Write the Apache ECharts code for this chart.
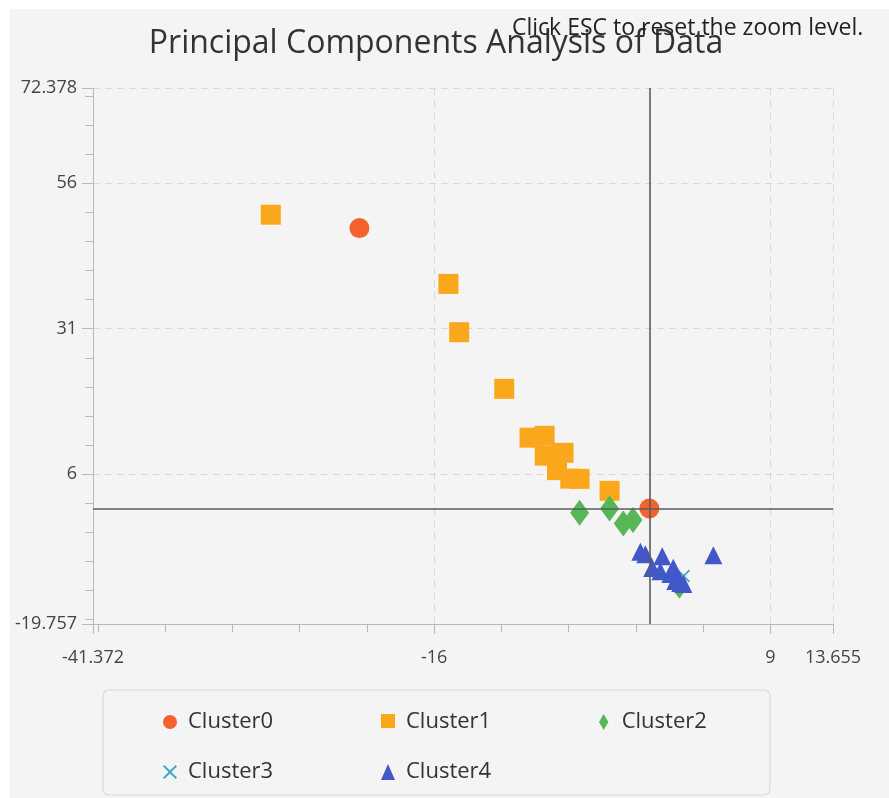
<!DOCTYPE html>
<html>
<head>
<meta charset="utf-8">
<script src="https://cdn.jsdelivr.net/npm/echarts@6/dist/echarts.min.js"></script>
<style>
  html, body { margin: 0; padding: 0; background: #ffffff; }
  #chart { position: absolute; left: 10px; top: 9px; width: 879px; height: 789px; }
</style>
</head>
<body>
<div id="chart"></div>
<script>
// ---- data ----
const titleText = 'Principal Components Analysis of Data';
const hintText = 'Click ESC to reset the zoom level.';
const seriesNames = ['Cluster0', 'Cluster1', 'Cluster2', 'Cluster3', 'Cluster4'];

const xMin = -41.372, xMax = 13.655;
const yMin = -19.757, yMax = 72.378;
const xTickLabels = [-41.372, -16, 9, 13.655];
const yTickLabels = [-19.757, 6, 31, 56, 72.378];
const xMinorTicks = [-41, -36, -31, -26, -21, -11, -6, -1, 4];
const yMinorTicks = [71, 66, 61, 51, 46, 41, 36, 26, 21, 16, 11, 1, -4, -9, -14, -19];

const cluster0 = [[-21.56, 48.3], [0.0, 0.1]];
const cluster1 = [
  [-28.15, 50.6], [-14.94, 38.7], [-14.14, 30.4], [-10.79, 20.66],
  [-8.91, 12.27], [-7.79, 12.6], [-7.78, 9.18], [-6.38, 9.66],
  [-6.87, 6.69], [-5.88, 5.23], [-5.19, 5.19], [-2.96, 3.13]
];
const cluster2 = [[-5.19, -0.65], [-2.96, 0.11], [-1.94, -2.5], [-1.22, -1.9], [2.23, -13.2]];
const cluster3 = [[2.55, -11.5], [2.2, -12.3]];
const cluster4 = [
  [-0.67, -7.32], [-0.30, -7.75], [0.96, -8.09], [0.21, -10.15], [4.76, -7.92],
  [0.82, -10.67], [1.78, -10.07], [1.56, -11.18], [2.06, -11.82], [1.93, -12.38],
  [2.30, -12.73], [2.53, -12.9]
];

const colors = ['#f3622d', '#fba71b', '#57b757', '#41a9c9', '#4258c9'];
const crossPath = 'path://M1,0 L5,4 L9,0 L10,1 L6,5 L10,9 L9,10 L5,6 L1,10 L0,9 L4,5 L0,1 Z';
const diamondPath = 'path://M5,0 L10,8.5 L5,17 L0,8.5 Z';

const FONT = '"Open Sans", "Noto Sans", sans-serif';
const fmt = v => String(Math.round(v * 1000) / 1000);

const chart = echarts.init(document.getElementById('chart'));

const legendText = {
  fontFamily: FONT, fontSize: 22, color: '#333', width: 100,
  lineHeight: 24, padding: [0, 0, 0, 6]
};

const option = {
  backgroundColor: '#f4f4f4',
  animation: false,
  title: [
    {
      text: titleText, left: 426, top: 19, textAlign: 'center', padding: 0,
      textStyle: { fontFamily: FONT, fontSize: 32, fontWeight: 'normal', color: '#333' }
    },
    {
      text: hintText, left: 502, top: 8, padding: 0,
      textStyle: { fontFamily: FONT, fontSize: 23, fontWeight: 'normal', color: '#222' }
    }
  ],
  grid: { left: 83, right: 56, top: 79, bottom: 174, containLabel: false },
  graphic: [{
    type: 'rect', silent: true, z: 0,
    shape: { x: 93, y: 681, width: 667, height: 105, r: 6 },
    style: { fill: 'rgba(0,0,0,0)', stroke: '#d9d9d9', lineWidth: 1.2 }
  }],
  legend: [
    {
      data: [
        { name: seriesNames[0], icon: 'circle' },
        { name: seriesNames[1], icon: 'square' },
        { name: seriesNames[2], icon: diamondPath }
      ],
      left: 153, top: 701, orient: 'horizontal', padding: 0,
      itemWidth: 14, itemHeight: 16, itemGap: 93,
      textStyle: legendText, selectedMode: false
    },
    {
      data: [
        { name: seriesNames[3], icon: crossPath },
        { name: seriesNames[4], icon: 'triangle' }
      ],
      left: 153, top: 751, orient: 'horizontal', padding: 0,
      itemWidth: 14, itemHeight: 16, itemGap: 93,
      textStyle: legendText, selectedMode: false
    }
  ],
  xAxis: [
    {
      type: 'value', min: xMin, max: xMax, position: 'bottom',
      axisLine: { show: true, onZero: false, lineStyle: { color: '#b8b8b8', width: 1 } },
      axisTick: { show: true, length: 10, customValues: xTickLabels, lineStyle: { color: '#b8b8b8' } },
      axisLabel: {
        show: true, customValues: xTickLabels, formatter: fmt, margin: 25,
        fontFamily: FONT, fontSize: 18, color: '#444'
      },
      splitLine: { show: true, lineStyle: { color: '#d8d8d8', type: [7, 5], width: 1 } }
    },
    {
      type: 'value', min: xMin, max: xMax, position: 'bottom',
      axisLine: { show: false, onZero: false },
      axisTick: { show: true, length: 8, customValues: xMinorTicks, lineStyle: { color: '#b8b8b8' } },
      axisLabel: { show: false },
      splitLine: { show: false }
    }
  ],
  yAxis: [
    {
      type: 'value', min: yMin, max: yMax, position: 'left',
      axisLine: { show: true, onZero: false, lineStyle: { color: '#b8b8b8', width: 1 } },
      axisTick: { show: true, length: 11, customValues: yTickLabels, lineStyle: { color: '#b8b8b8' } },
      axisLabel: {
        show: true, customValues: yTickLabels, formatter: fmt, margin: 16,
        fontFamily: FONT, fontSize: 18, color: '#444'
      },
      splitLine: { show: true, lineStyle: { color: '#d8d8d8', type: [7, 5], width: 1 } }
    },
    {
      type: 'value', min: yMin, max: yMax, position: 'left',
      axisLine: { show: false, onZero: false },
      axisTick: { show: true, length: 8, customValues: yMinorTicks, lineStyle: { color: '#b8b8b8' } },
      axisLabel: { show: false },
      splitLine: { show: false }
    }
  ],
  series: [
    {
      name: '_zero', type: 'scatter', data: [], z: 1, silent: true,
      markLine: {
        silent: true, symbol: ['none', 'none'], animation: false,
        label: { show: false },
        lineStyle: { color: '#5c5c5c', width: 1.6, type: 'solid' },
        data: [{ xAxis: 0 }, { yAxis: 0 }]
      }
    },
    { name: seriesNames[0], type: 'scatter', data: cluster0, symbol: 'circle', symbolSize: 20,
      itemStyle: { color: colors[0], opacity: 1 }, z: 3 },
    { name: seriesNames[1], type: 'scatter', data: cluster1, symbol: 'square', symbolSize: 20,
      itemStyle: { color: colors[1], opacity: 1 }, z: 3 },
    { name: seriesNames[2], type: 'scatter', data: cluster2, symbol: 'diamond', symbolSize: [19, 26],
      itemStyle: { color: colors[2], opacity: 1 }, z: 3 },
    { name: seriesNames[3], type: 'scatter', data: cluster3, symbol: crossPath, symbolSize: 13,
      itemStyle: { color: colors[3], opacity: 1 }, z: 3 },
    { name: seriesNames[4], type: 'scatter', data: cluster4, symbol: 'triangle', symbolSize: [18, 18],
      itemStyle: { color: colors[4], opacity: 1 }, z: 3 }
  ]
};

chart.setOption(option);
</script>
</body>
</html>
